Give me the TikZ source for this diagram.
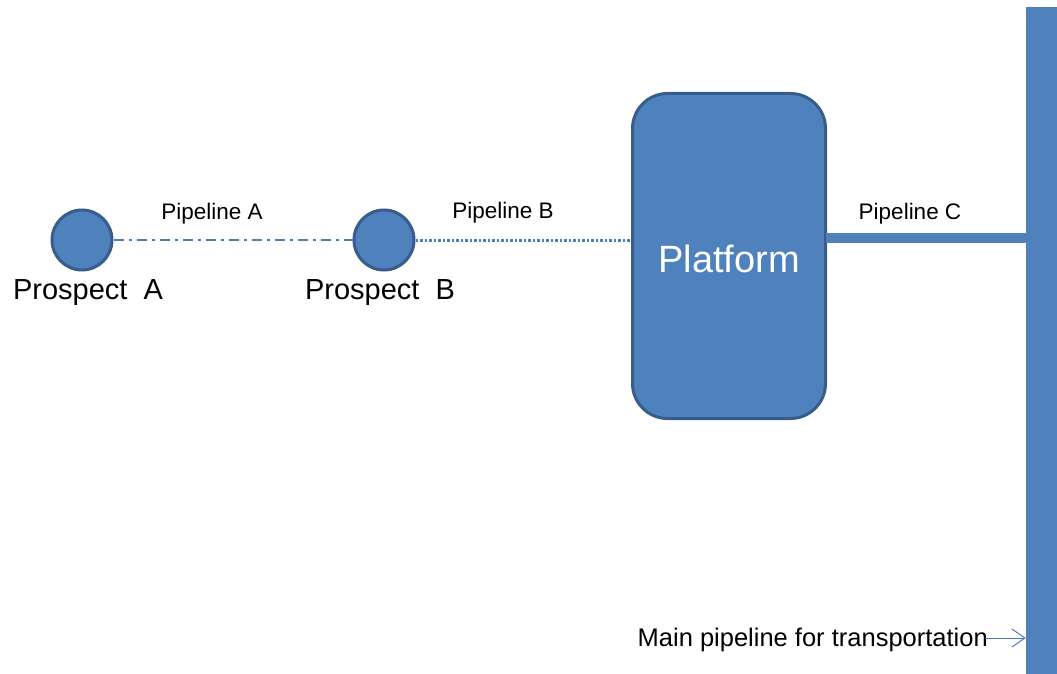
\documentclass[tikz,border=0pt]{standalone}
\usepackage{fontspec}
\setmainfont{Liberation Sans}
\usetikzlibrary{arrows.meta}
\definecolor{boxfill}{HTML}{4F81BD}
\definecolor{boxline}{HTML}{385D8A}
\definecolor{pipeline}{HTML}{4A7EBB}
\tikzset{
  prospect/.style={circle, fill=boxfill, draw=boxline, line width=3pt, minimum size=60pt, inner sep=0pt},
  platformbox/.style={rectangle, rounded corners=35pt, fill=boxfill, draw=boxline, line width=3pt, minimum width=193pt, minimum height=325pt},
  platformtext/.style={text=white, font=\fontsize{38}{44}\selectfont, inner sep=0pt},
  mainbar/.style={rectangle, fill=boxfill, draw=none, minimum width=31pt, minimum height=667pt, inner sep=0pt},
  biglabel/.style={font=\fontsize{29}{34}\selectfont, inner sep=0pt},
  smalllabel/.style={font=\fontsize{22.5}{26}\selectfont, inner sep=0pt},
  mainlabel/.style={font=\fontsize{25.5}{30}\selectfont, inner sep=0pt},
  pipeA/.style={draw=pipeline, line width=1.5pt, dash pattern=on 10pt off 5pt on 3pt off 5pt},
  pipeB/.style={draw=pipeline, line width=3pt, dash pattern=on 2.5pt off 2pt},
  pipeC/.style={draw=boxfill, line width=10pt},
  pointer/.style={draw=pipeline, line width=1pt, -{Straight Barb[length=13pt,width=18pt]}}
}
\begin{document}
\begin{tikzpicture}[x=1pt,y=-1pt]
\useasboundingbox (0,0) rectangle (1057,674);
\node[prospect] (A) at (82,240) {};
\node[prospect] (B) at (384,240) {};
\node[platformbox] (P) at (729,256) {};
\node[platformtext] (PT) at (729,259) {Platform};
\node[mainbar] (M) at (1041.5,340.5) {};
\node[biglabel] (LA) at (88,293) {Prospect\ \ A};
\node[biglabel] (LB) at (380,293) {Prospect\ \ B};
\node[smalllabel] (PA) at (212,214) {Pipeline A};
\node[smalllabel] (PB) at (503,213) {Pipeline B};
\node[smalllabel] (PC) at (910,214) {Pipeline C};
\node[mainlabel, anchor=east] (ML) at (988,640) {Main pipeline for transportation};
\coordinate (c1) at (826,238);
\coordinate (s1) at (985,638);
\draw[pipeA] (A.east) -- (B.west);
\draw[pipeB] (B.east) -- (B.east -| P.west);
\draw[pipeC] (c1) -- (c1 -| M.west);
\draw[pointer] (s1) -- (s1 -| M.west);
\end{tikzpicture}
\end{document}
